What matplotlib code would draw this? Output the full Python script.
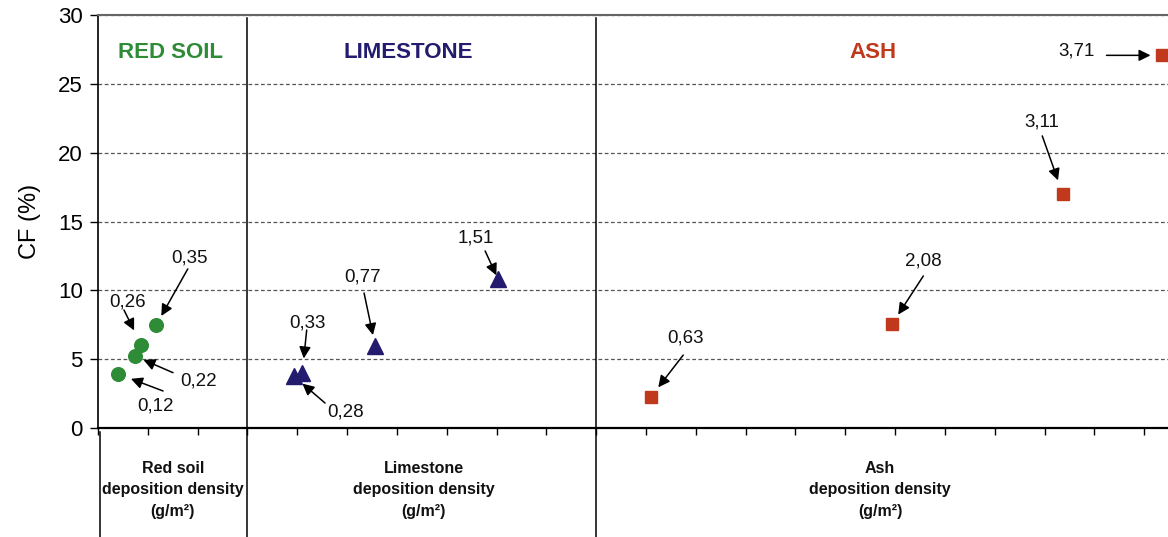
import numpy as np
import matplotlib
matplotlib.use("Agg")
import matplotlib.pyplot as plt

plt.rcParams["font.family"] = ["Liberation Sans", "DejaVu Sans"]

# deposition density (g/m2) and CF (%) for each material
red_soil_x = [0.12, 0.22, 0.26, 0.35]
red_soil_cf = [3.93, 5.23, 6.05, 7.47]
limestone_x = [0.28, 0.33, 0.77, 1.51]
limestone_cf = [3.75, 3.97, 5.93, 10.8]
ash_x = [0.63, 2.08, 3.11, 3.71]
ash_cf = [2.27, 7.52, 17.0, 27.07]

# each block sits on the shared axis, shifted right by this much
red_soil_shift = 0.0
limestone_shift = 0.9
ash_shift = 2.7

labels_red = ["0,12", "0,22", "0,26", "0,35"]
labels_lime = ["0,28", "0,33", "0,77", "1,51"]
labels_ash = ["0,63", "2,08", "3,11", "3,71"]

green = "#2E8B36"
navy = "#231B6E"
red = "#C0391D"

fig = plt.figure(figsize=(11.68, 5.37), dpi=100)
ax = fig.add_axes([98 / 1168, 1 - 428 / 537, 1096 / 1168, 413 / 537])

ax.set_xlim(0, 6.6)
ax.set_ylim(0, 30)

ax.plot(np.array(red_soil_x) + red_soil_shift, red_soil_cf, "o", color=green,
        ms=9.8, mec=green, clip_on=False, zorder=3)
ax.plot(np.array(limestone_x) + limestone_shift, limestone_cf, "^", color=navy,
        ms=12, mec=navy, clip_on=False, zorder=3)
ax.plot(np.array(ash_x) + ash_shift, ash_cf, "s", color=red,
        ms=8.3, mec=red, clip_on=False, zorder=3)

# per label: text offset (pt), arrow tail offset (pt), gap left before the marker (pt)
ann_red = [((27, -23), (32.5, -12.3), 10),
           ((46, -18), (27.7, -12), 7),
           ((-10, 31), (-12.4, 25), 11.5),
           ((24, 48), (22.8, 40.5), 7.6)]
ann_lime = [((37, -26), (22.4, -19.2), 8),
            ((4, 36), (3.2, 31.2), 10.8),
            ((-9, 50), (-8.1, 38.4), 8.3),
            ((-16, 30), (-9.4, 20.4), 3.2)]
ann_ash = [((25, 42), (23.2, 30), 8.6),
           ((23, 46), (22.7, 34.9), 8.5),
           ((-15, 52), (-14.8, 41.8), 10.4),
           ((-62, 3), (-40.3, 0), 8.6)]

def label_points(xs, ys, shift, labels, specs):
    for x, y, txt, (txt_off, tail_off, gap) in zip(xs, ys, labels, specs):
        ax.annotate(txt, xy=(x + shift, y), xytext=txt_off,
                    textcoords="offset points", ha="center", va="center",
                    fontsize=13.5, color="#111111", annotation_clip=False)
        ax.annotate("", xy=(x + shift, y), xytext=tail_off,
                    textcoords="offset points", annotation_clip=False,
                    arrowprops=dict(arrowstyle="-|>,head_length=0.6,head_width=0.3",
                                    color="black", lw=1.1, shrinkA=0, shrinkB=gap,
                                    mutation_scale=11.5))

label_points(red_soil_x, red_soil_cf, red_soil_shift, labels_red, ann_red)
label_points(limestone_x, limestone_cf, limestone_shift, labels_lime, ann_lime)
label_points(ash_x, ash_cf, ash_shift, labels_ash, ann_ash)

# horizontal dashed grid
ax.set_yticks(range(0, 31, 5))
ax.yaxis.grid(True, linestyle=(0, (3, 2)), color="#555555", lw=0.9)
ax.set_axisbelow(True)
ax.set_xticks(np.arange(0, 6.61, 0.3))
ax.set_xticklabels([])
ax.tick_params(axis="y", direction="out", length=6, width=1, labelsize=16, pad=5)
ax.tick_params(axis="x", direction="out", length=5, width=1)
ax.set_ylabel("CF (%)", fontsize=17, labelpad=12)

ax.spines["right"].set_visible(False)
ax.spines["top"].set_color("#666666")
ax.spines["top"].set_linewidth(1.5)
ax.spines["bottom"].set_linewidth(1.6)
ax.spines["left"].set_linewidth(1.2)

# block separators running down through the label area
for xs in [limestone_shift, 3.0]:
    ax.axvline(xs, ymin=-0.264, ymax=0.993, color="black", lw=1.1, clip_on=False)
ax.axvline(0.01, ymin=-0.264, ymax=-0.01, color="black", lw=1.1, clip_on=False)

ax.text(0.434, 27.3, "RED SOIL", color=green, fontsize=16, fontweight="bold",
        ha="center", va="center")
ax.text(1.867, 27.3, "LIMESTONE", color=navy, fontsize=16, fontweight="bold",
        ha="center", va="center")
ax.text(4.669, 27.3, "ASH", color=red, fontsize=16, fontweight="bold",
        ha="center", va="center")

for xc, name in [(0.45, "Red soil"), (1.96, "Limestone"), (4.71, "Ash")]:
    ax.text(xc, -4.5, name + "\ndeposition density\n(g/m²)", fontsize=11.5,
            fontweight="bold", ha="center", va="center", linespacing=1.55,
            color="#111111", clip_on=False)

fig.savefig("out.png", dpi=100)
